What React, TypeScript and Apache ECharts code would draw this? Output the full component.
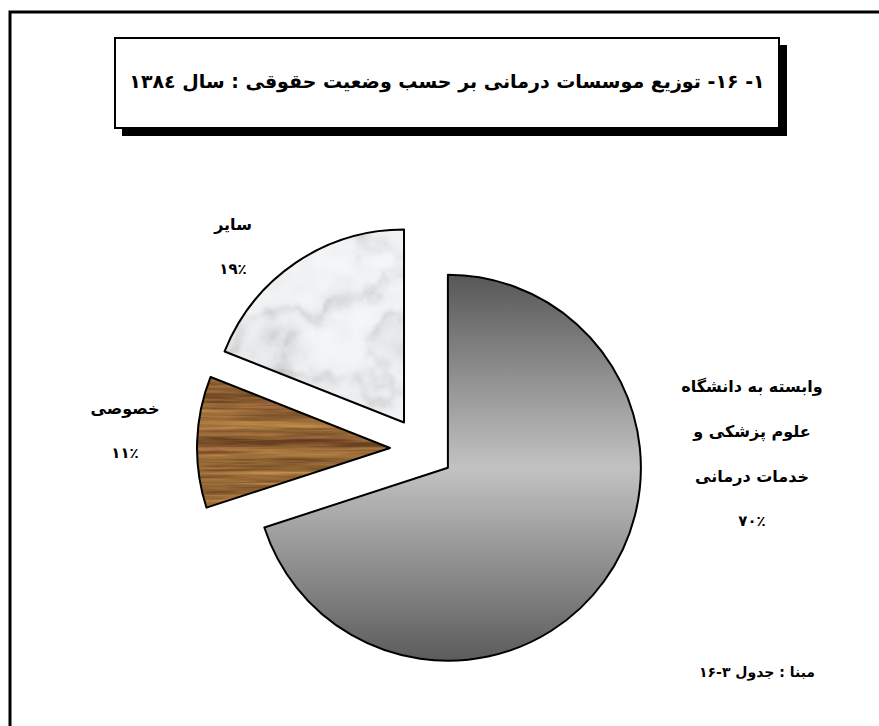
import React, { useEffect, useRef } from "react";
import * as echarts from "echarts";

// ---- data ----
const categories = ["وابسته به دانشگاه علوم پزشکی و خدمات درمانی", "خصوصی", "سایر"];
const values = [70, 11, 19];
const percentLabels = ["۷۰٪", "۱۱٪", "۱۹٪"];
const labelLines = [["وابسته به دانشگاه", "علوم پزشکی و", "خدمات درمانی"], ["خصوصی"], ["سایر"]];
const titleText = "۱- ۱۶- توزیع موسسات درمانی بر حسب وضعیت حقوقی : سال ۱۳۸٤";
const sourceText = "مبنا : جدول ۳-۱۶";

const FONT = "'DejaVu Sans', sans-serif";

// right-to-left embedding so that the text is laid out as Persian
const rtl = (s: string) => "\u202B" + s + "\u202C";

function hash(x: number, y: number) {
  const s = Math.sin(x * 127.1 + y * 311.7) * 43758.5453;
  return s - Math.floor(s);
}
function vnoise(x: number, y: number) {
  const ix = Math.floor(x), iy = Math.floor(y);
  const fx = x - ix, fy = y - iy;
  const ux = fx * fx * (3 - 2 * fx), uy = fy * fy * (3 - 2 * fy);
  const a = hash(ix, iy), b = hash(ix + 1, iy), c = hash(ix, iy + 1), d = hash(ix + 1, iy + 1);
  return a + (b - a) * ux + (c - a) * uy + (a - b - c + d) * ux * uy;
}
function fbm(x: number, y: number, oct = 5) {
  let s = 0, amp = 0.5, f = 1, norm = 0;
  for (let o = 0; o < oct; o++) {
    s += amp * vnoise(x * f, y * f);
    norm += amp;
    amp *= 0.5;
    f *= 2;
  }
  return s / norm;
}

const TEX = 512;

function makeWood(): string {
  const w = TEX, h = TEX;
  const c = document.createElement("canvas");
  c.width = w; c.height = h;
  const ctx = c.getContext("2d")!;
  const img = ctx.createImageData(w, h);
  for (let y = 0; y < h; y++) {
    for (let x = 0; x < w; x++) {
      const n1 = fbm(x / 160, y / 6, 4);
      const n2 = fbm(x / 50 + 10, y / 2.2 + 5, 3);
      let t = 0.6 * n1 + 0.4 * n2;
      t = Math.max(0, Math.min(1, (t - 0.5) * 2.2 + 0.5));
      let r = 102 + t * (192 - 102);
      let g = 64 + t * (140 - 64);
      let b = 32 + t * (74 - 32);
      const red = Math.max(0, fbm(x / 120 + 40, y / 10 + 40, 3) - 0.65) * 2.2;
      g -= 30 * red; b += 10 * red;
      const i = (y * w + x) * 4;
      img.data[i] = r; img.data[i + 1] = g; img.data[i + 2] = b; img.data[i + 3] = 255;
    }
  }
  ctx.putImageData(img, 0, 0);
  return c.toDataURL();
}

function makeMarble(): string {
  const w = TEX, h = TEX;
  const c = document.createElement("canvas");
  c.width = w; c.height = h;
  const ctx = c.getContext("2d")!;
  const img = ctx.createImageData(w, h);
  for (let y = 0; y < h; y++) {
    for (let x = 0; x < w; x++) {
      const n = fbm(x / 60, y / 60, 5);
      const m = fbm(x / 18 + 7, y / 18 + 3, 4);
      const v = Math.sin((x * 0.6 + y * 0.8) / 30 + n * 8);
      const soft = Math.exp(-(v * v) / 0.35) * m;
      const cloud = Math.max(0, n - 0.48) * 2;
      let val = 243 - 38 * soft - 26 * cloud * (0.5 + m) - 8 * (m - 0.5);
      val = Math.max(178, Math.min(248, val));
      const i = (y * w + x) * 4;
      img.data[i] = val; img.data[i + 1] = val + 1; img.data[i + 2] = val + 2; img.data[i + 3] = 255;
    }
  }
  ctx.putImageData(img, 0, 0);
  return c.toDataURL();
}

export default function App() {
  const ref = useRef<HTMLDivElement>(null);
  useEffect(() => {
    if (!ref.current) return;
    const chart = echarts.init(ref.current, null, { renderer: "svg" });
    const wood = { image: makeWood(), repeat: "repeat", imageWidth: TEX, imageHeight: TEX };
    const marble = { image: makeMarble(), repeat: "repeat", imageWidth: TEX, imageHeight: TEX };
    const gray = new echarts.graphic.LinearGradient(0, 0, 0, 1, [
      { offset: 0, color: "#575757" },
      { offset: 0.5, color: "#c2c2c2" },
      { offset: 1, color: "#5c5c5c" },
    ]);
    const fills: any[] = [gray, wood, marble];

    const labelPos = [
      { x: 752, y: 386 },
      { x: 125, y: 408 },
      { x: 233, y: 224 },
    ];
    const lineGap = 45;
    const labelTexts: any[] = [];
    labelLines.forEach((lines, i) => {
      const all = [...lines, percentLabels[i]];
      all.forEach((t, j) => {
        labelTexts.push({
          type: "text",
          x: labelPos[i].x,
          y: labelPos[i].y + j * lineGap,
          style: {
            text: rtl(t),
            font: `bold ${j === lines.length ? 15 : 16}px ${FONT}`,
            fill: "#000",
            textAlign: "center",
            textVerticalAlign: "middle",
          },
        });
      });
    });

    chart.setOption({
      animation: false,
      backgroundColor: "#fff",
      graphic: [
        { type: "rect", shape: { x: 10, y: 12, width: 900, height: 800 }, style: { fill: "none", stroke: "#000", lineWidth: 3 }, z: 0 },
        { type: "rect", shape: { x: 122, y: 45, width: 665, height: 91 }, style: { fill: "#000" }, z: 1 },
        { type: "rect", shape: { x: 115, y: 38, width: 664, height: 90 }, style: { fill: "#fff", stroke: "#000", lineWidth: 2 }, z: 2 },
        {
          type: "text", x: 447, y: 81, z: 3,
          style: { text: rtl(titleText), font: `bold 19px ${FONT}`, fill: "#000", textAlign: "center", textVerticalAlign: "middle" },
        },
        ...labelTexts,
        {
          type: "text", x: 757, y: 672,
          style: { text: rtl(sourceText), font: `bold 14px ${FONT}`, fill: "#000", textAlign: "center", textVerticalAlign: "middle" },
        },
      ],
      series: [
        {
          type: "pie",
          center: [422, 449],
          radius: [0, 193],
          startAngle: 90,
          clockwise: true,
          selectedMode: "multiple",
          selectedOffset: 32,
          silent: true,
          label: { show: false },
          labelLine: { show: false },
          emphasis: { disabled: true },
          data: categories.map((name, i) => ({
            name,
            value: values[i],
            selected: true,
            itemStyle: { color: fills[i], borderColor: "#000", borderWidth: 2 },
            select: { itemStyle: { color: fills[i], borderColor: "#000", borderWidth: 2 } },
          })),
        },
      ],
    });
    return () => chart.dispose();
  }, []);
  return <div ref={ref} style={{ position: "fixed", left: 0, top: 0, width: 879, height: 726 }} />;
}
